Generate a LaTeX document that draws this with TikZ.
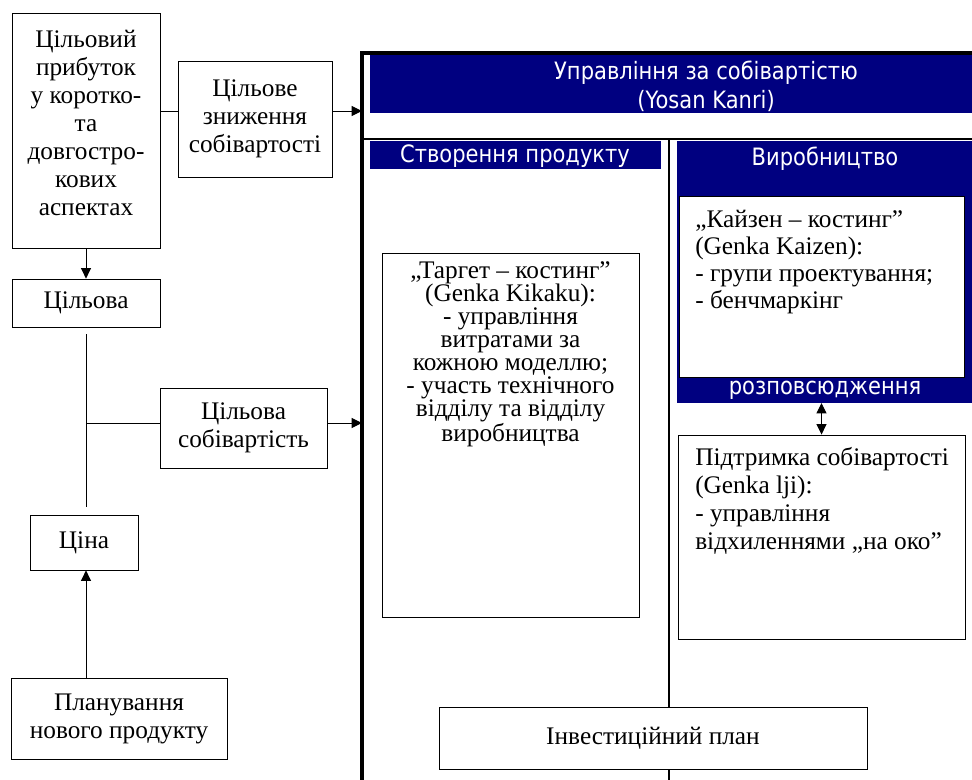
\documentclass[tikz,border=0pt]{standalone}
\usepackage{fontspec}
\setmainfont{Liberation Serif}
\newfontfamily\barfont[FakeStretch=0.88]{DejaVu Sans}
\usetikzlibrary{arrows.meta,positioning}
\definecolor{navybar}{RGB}{0,0,128}
\tikzset{
  >={Triangle[length=2.6mm,width=2.5mm]},
  bx/.style  ={draw, line width=0.6pt, fill=white, inner sep=2pt, align=center, font=\fontsize{18}{20}\selectfont},
  tx/.style  ={inner sep=0pt, font=\fontsize{18}{20}\selectfont},
  bar/.style ={inner sep=0pt, text=white, align=center, font=\barfont\fontsize{17}{20.5}\selectfont},
  wire/.style={line width=0.7pt},
  rule/.style={line width=1.4pt}
}
\begin{document}
\begin{tikzpicture}[x=0.025cm, y=-0.025cm]
\useasboundingbox (0,0) rectangle (972,780);
\coordinate (fl) at (362,53);
\coordinate (vyr) at (825,403);
\fill[navybar] (370,55) rectangle (972,113);
\fill[navybar] (370,141) rectangle (661,169);
\fill[navybar] (677,141) rectangle (972,403);
\draw[line width=2.2pt] (362,780) -- (fl) -- (972,53);
\draw[rule] (362,139) -- (972,139);
\draw[rule] (669,139) -- (669,780);
\node[bar] (upr) at (706,86) {Управління за собівартістю\\(Yosan Kanri)};
\node[bar] (stv) at (515,156) {Створення продукту};
\node[bar] (vrb) at (825,159) {Виробництво};
\node[bar] (roz) at (825,390) {розповсюдження};

\node[bx, minimum width=3.7cm, minimum height=5.875cm] (A) at (86,130.5) {};
\node[tx, align=center] (At) at (86,123) {Цільовий\\прибуток\\у коротко-\\та\\довгостро-\\кових\\аспектах};
\node[bx, minimum width=3.85cm, minimum height=2.9cm] (B) at (255,119) {Цільове\\зниження\\собівартості};
\node[bx, minimum width=3.7cm, minimum height=1.2cm] (C) at (86,303) {Цільова};
\node[bx, minimum width=4.175cm, minimum height=2cm] (D) at (243.5,428) {Цільова\\собівартість};
\node[bx, minimum width=2.7cm, minimum height=1.375cm] (E) at (84,542.5) {Ціна};
\node[bx, minimum width=5.4cm, minimum height=2.025cm] (F) at (119,718.5) {Планування\\нового продукту};

\node[bx, minimum width=6.425cm, minimum height=9.1cm] (tg) at (510.5,435) {};
\node[tx, align=center, font=\fontsize{18}{16.4}\selectfont] (tgt) at (510.5,354) {,,Таргет – костинг''\\(Genka Kikaku):\\- управління\\витратами за\\кожною моделлю;\\- участь технічного\\відділу та відділу\\виробництва};
\node[bx, minimum width=7.125cm, minimum height=4.525cm] (kz) at (821.5,286.5) {};
\node[tx, align=left, anchor=west, font=\fontsize{18}{19}\selectfont] (kzt) at (695,262) {,,Кайзен – костинг''\\(Genka Kaizen):\\- групи проектування;\\- бенчмаркінг};
\node[bx, minimum width=7.175cm, minimum height=5.1cm] (pd) at (821.5,537) {};
\node[tx, align=left, anchor=west] (pdt) at (695,501) {Підтримка собівартості\\(Genka lji):\\- управління\\відхиленнями ,,на око''};
\node[bx, minimum width=10.7cm, minimum height=1.55cm] (iv) at (653,738) {Інвестиційний план};

\coordinate (bin) at ([yshift=0.2cm]B.west);
\coordinate (din) at ([yshift=0.125cm]D.west);
\draw[wire,->] (A) -- (C);
\draw[wire] (A.east |- bin) -- (bin);
\draw[wire,->] ([yshift=0.2cm]B.east) -- (bin -| fl);
\draw[wire] ([yshift=-0.175cm]C.south) -- ([yshift=0.2cm]C.south |- E.north);
\draw[wire] (C.south |- din) -- (din);
\draw[wire,->] ([yshift=0.125cm]D.east) -- (din -| fl);
\draw[wire,->] (C.south |- F.north) -- (C.south |- E.south);
\draw[wire,<->] (vyr -| pd.north) -- (pd.north);
\end{tikzpicture}
\end{document}
